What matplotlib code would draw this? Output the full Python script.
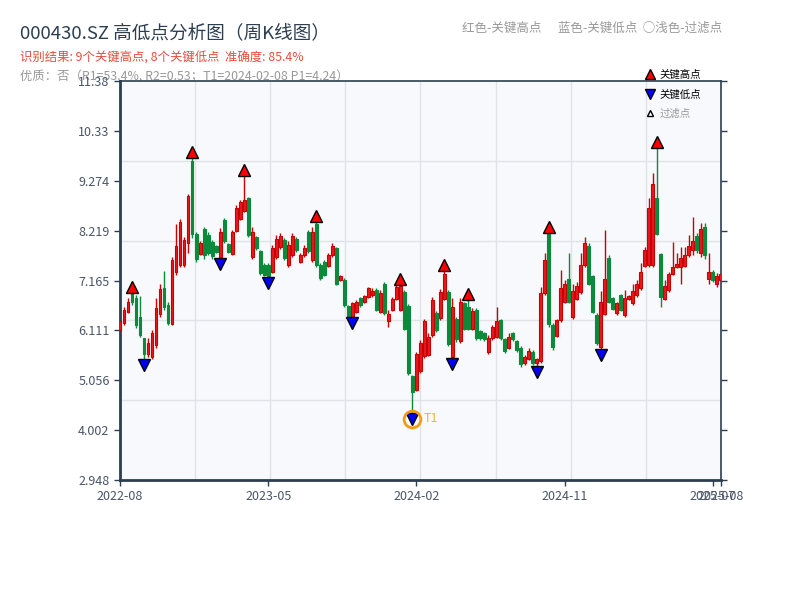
import matplotlib
matplotlib.use("Agg")
import matplotlib.pyplot as plt
import numpy as np
from matplotlib.lines import Line2D

plt.rcParams['font.family'] = ['Noto Sans CJK SC', 'DejaVu Sans']

# 周K线数据 (每周 开/高/低/收)
opens = [6.12, 6.26, 6.50, 6.90, 6.80, 6.40, 5.94, 5.62, 5.55, 5.80,
         6.45, 7.00, 6.65, 6.25, 7.35, 7.50, 7.50, 7.95, 9.70, 8.15,
         7.72, 8.25, 8.12, 7.98, 7.90, 7.64, 8.45, 7.93, 7.72, 8.22,
         8.46, 8.63, 8.90, 7.66, 8.08, 7.78, 7.50, 7.50, 7.35, 7.66,
         7.87, 8.02, 7.50, 7.70, 8.05, 7.56, 7.70, 8.18, 7.60, 8.35,
         7.50, 7.56, 7.48, 7.70, 7.85, 7.17, 7.18, 6.62, 6.40, 6.50,
         6.80, 6.70, 6.81, 6.85, 6.97, 6.50, 7.10, 6.30, 6.54, 6.78,
         6.55, 6.92, 6.62, 5.15, 4.85, 5.25, 5.56, 5.60, 6.02, 6.48,
         6.38, 6.78, 6.92, 5.55, 6.36, 5.88, 6.68, 6.60, 6.15, 6.55,
         6.10, 6.05, 5.66, 5.94, 5.98, 6.32, 5.92, 5.74, 6.05, 5.89,
         5.74, 5.42, 5.50, 5.66, 5.43, 5.46, 6.90, 8.15, 6.22, 6.00,
         6.32, 6.70, 7.20, 6.40, 6.78, 6.92, 7.50, 7.90, 7.25, 6.44,
         5.75, 6.46, 7.65, 6.80, 6.47, 6.86, 6.44, 6.77, 6.68, 6.85,
         7.00, 7.48, 7.50, 7.50, 8.90, 7.72, 6.78, 6.96, 7.30, 7.45,
         7.45, 7.48, 7.70, 7.80, 8.10, 7.75, 8.30, 7.20, 7.35, 7.10,
         7.18]
highs = [6.36, 6.61, 6.79, 7.03, 6.86, 6.84, 5.95, 5.95, 6.12, 6.79,
         7.10, 7.36, 6.72, 7.67, 8.35, 8.46, 8.09, 8.99, 9.89, 8.20,
         7.99, 8.30, 8.20, 8.02, 7.92, 8.27, 8.48, 7.95, 8.23, 8.76,
         8.87, 9.50, 8.94, 8.30, 8.10, 7.81, 7.53, 7.53, 7.91, 8.13,
         8.16, 8.06, 7.99, 8.16, 8.09, 7.74, 7.91, 8.23, 8.30, 8.53,
         7.53, 7.60, 7.74, 7.95, 7.88, 7.28, 7.21, 6.65, 6.72, 6.75,
         6.82, 6.86, 7.03, 7.00, 7.00, 6.96, 7.14, 6.54, 6.82, 7.07,
         7.19, 6.96, 6.67, 5.17, 5.66, 5.91, 6.36, 6.06, 6.81, 6.51,
         6.98, 7.49, 6.96, 6.79, 6.40, 6.79, 6.72, 6.89, 6.58, 6.58,
         6.12, 6.08, 6.01, 6.22, 6.61, 6.36, 5.94, 6.05, 6.08, 5.91,
         5.77, 5.59, 5.73, 5.70, 5.52, 7.03, 7.74, 8.30, 6.26, 6.36,
         7.39, 7.17, 7.74, 7.10, 7.14, 7.74, 8.09, 7.95, 7.28, 6.47,
         6.95, 8.23, 7.70, 6.82, 6.72, 6.89, 6.96, 6.86, 7.10, 7.17,
         7.53, 7.88, 8.90, 9.43, 10.10, 7.74, 7.17, 7.35, 7.98, 7.74,
         7.88, 7.88, 8.13, 8.51, 8.16, 8.37, 8.37, 7.74, 7.39, 7.32,
         7.35]
lows = [6.08, 6.22, 6.47, 6.65, 6.17, 5.97, 5.38, 5.55, 5.50, 5.73,
        6.40, 6.54, 6.22, 6.22, 7.28, 7.46, 7.46, 7.75, 8.06, 7.56,
        7.70, 7.63, 7.70, 7.63, 7.74, 7.51, 7.95, 7.74, 7.70, 8.20,
        8.44, 8.62, 8.09, 7.63, 7.82, 7.28, 7.25, 7.11, 7.32, 7.63,
        7.84, 7.60, 7.46, 7.67, 7.77, 7.53, 7.67, 7.74, 7.56, 7.46,
        7.18, 7.25, 7.46, 7.67, 7.07, 7.15, 6.61, 6.37, 6.26, 6.47,
        6.61, 6.68, 6.79, 6.82, 6.51, 6.47, 6.43, 6.19, 6.51, 6.75,
        6.51, 6.12, 5.17, 4.24, 4.82, 5.20, 5.52, 5.56, 5.98, 6.08,
        6.34, 6.75, 5.78, 5.39, 5.87, 5.84, 6.12, 6.12, 6.12, 5.91,
        5.91, 5.89, 5.62, 5.91, 5.94, 5.91, 5.64, 5.71, 5.89, 5.66,
        5.34, 5.38, 5.48, 5.38, 5.23, 5.43, 6.86, 6.19, 5.70, 5.98,
        6.29, 6.68, 6.68, 6.36, 6.75, 6.89, 7.46, 7.07, 6.47, 5.80,
        5.58, 6.44, 6.68, 6.54, 6.44, 6.51, 6.40, 6.75, 6.65, 6.82,
        6.96, 7.46, 7.46, 7.46, 8.13, 6.61, 6.75, 6.93, 7.28, 7.42,
        7.10, 7.46, 7.67, 7.70, 7.74, 7.67, 7.63, 7.10, 7.14, 7.03,
        7.14]
closes = [6.30, 6.55, 6.72, 6.70, 6.22, 6.02, 5.62, 5.85, 6.05, 6.58,
          6.98, 6.60, 6.26, 7.60, 7.90, 8.40, 8.02, 8.95, 8.15, 7.62,
          7.95, 7.70, 7.75, 7.68, 7.76, 8.20, 8.00, 7.77, 8.18, 8.70,
          8.82, 8.86, 8.12, 8.20, 7.85, 7.32, 7.28, 7.25, 7.85, 8.05,
          8.10, 7.64, 7.92, 8.10, 7.80, 7.70, 7.86, 7.78, 8.20, 7.50,
          7.21, 7.28, 7.70, 7.90, 7.10, 7.25, 6.65, 6.40, 6.68, 6.70,
          6.64, 6.83, 7.00, 6.95, 6.54, 6.90, 6.47, 6.45, 6.78, 7.02,
          7.05, 6.15, 5.20, 4.80, 5.62, 5.85, 6.30, 5.98, 6.75, 6.12,
          6.92, 7.30, 5.82, 6.60, 5.92, 6.70, 6.15, 6.15, 6.52, 5.95,
          5.94, 5.92, 5.96, 6.18, 6.30, 5.95, 5.68, 5.98, 5.92, 5.70,
          5.40, 5.55, 5.68, 5.42, 5.50, 6.90, 7.60, 6.25, 5.75, 6.32,
          7.00, 7.10, 6.72, 6.95, 7.05, 7.50, 7.95, 7.10, 6.50, 5.84,
          6.70, 7.20, 6.72, 6.57, 6.68, 6.54, 6.80, 6.84, 6.95, 7.10,
          7.35, 7.80, 8.70, 9.20, 8.15, 6.82, 7.05, 7.30, 7.45, 7.52,
          7.65, 7.70, 7.90, 8.00, 7.80, 8.25, 7.70, 7.35, 7.18, 7.25,
          7.30]

# 关键高点 / 关键低点 (K线序号)
high_idx = [3, 18, 31, 49, 70, 81, 87, 107, 134]
low_idx = [6, 25, 37, 58, 73, 83, 104, 120]
t1_idx = 73

tick_idx = [0, 37, 74, 111, 148, 150]
tick_lbl = ['2022-08', '2023-05', '2024-02', '2024-11', '2025-07', '2025-08']
y_lim = (2.948, 11.382)
y_lbl = ['2.948', '4.002', '5.056', '6.111', '7.165', '8.219', '9.274', '10.33', '11.38']

UP = '#e8191e'
UP_EDGE = '#c80000'
DOWN = '#0a8a3a'
DARK = '#2c3e50'

fig = plt.figure(figsize=(8, 6), dpi=100)
ax = fig.add_axes([0.15, 0.2, 0.751, 0.665])
ax.set_zorder(1)
ax.set_facecolor('#f7f9fc')

x = np.arange(len(opens))
o = np.array(opens)
h = np.array(highs)
l = np.array(lows)
c = np.array(closes)
up = c >= o

# 网格
for f in [0.2, 0.4, 0.6, 0.8]:
    ax.plot([0, 1], [f, f], transform=ax.transAxes, color='#dfe3e8', lw=1, zorder=0)
for f in np.arange(1, 8) / 8:
    ax.plot([f, f], [0, 1], transform=ax.transAxes, color='#dfe3e8', lw=1, zorder=0)

# K线
ax.vlines(x[up], l[up], h[up], color=UP_EDGE, lw=1, zorder=2)
ax.vlines(x[~up], l[~up], h[~up], color=DOWN, lw=1, zorder=2)
ax.bar(x[up], c[up] - o[up], bottom=o[up], width=0.7, color=UP,
       edgecolor=UP_EDGE, linewidth=0.8, zorder=3)
ax.bar(x[~up], o[~up] - c[~up], bottom=c[~up], width=0.7, color=DOWN,
       edgecolor=DOWN, linewidth=0.8, zorder=3)

# 关键点
ax.plot(high_idx, h[high_idx], ls='none', marker='^', ms=9, mfc='#ff0000',
        mec='black', mew=1, zorder=5)
ax.plot(low_idx, l[low_idx], ls='none', marker='v', ms=9, mfc='#0000ff',
        mec='black', mew=1, zorder=5)
ax.plot([t1_idx], [l[t1_idx]], ls='none', marker='o', ms=12, mfc='none',
        mec='#f39c12', mew=2, zorder=6)
ax.annotate('T1', (t1_idx, l[t1_idx]), xytext=(8, 0), textcoords='offset points',
            color='#f5b041', fontsize=9, va='center', zorder=6)

ax.set_xlim(0, len(opens) - 1)
ax.set_ylim(*y_lim)
ax.set_xticks(tick_idx)
ax.set_xticklabels(tick_lbl)
ax.set_yticks(np.linspace(y_lim[0], y_lim[1], len(y_lbl)))
ax.set_yticklabels(y_lbl)
ax.tick_params(axis='both', colors=DARK, labelcolor='#4a5568', labelsize=9,
               length=4, width=1, direction='out')
ax.tick_params(axis='y', right=True, labelright=False)

for side in ['left', 'bottom']:
    ax.spines[side].set_linewidth(2)
    ax.spines[side].set_color(DARK)
for side in ['top', 'right']:
    ax.spines[side].set_linewidth(1.2)
    ax.spines[side].set_color(DARK)

# 标题与说明
fig.text(0.025, 0.945, '000430.SZ 高低点分析图（周K线图）', fontsize=13.4,
         color=DARK, va='center')
fig.text(0.025, 0.903, '识别结果: 9个关键高点, 8个关键低点  准确度: 85.4%',
         fontsize=8.9, color='#e74c3c', va='center')
fig.text(0.025, 0.873, '优质：否（R1=53.4%, R2=0.53；T1=2024-02-08 P1=4.24）',
         fontsize=8.9, color='#999999', va='center', zorder=0.5)
fig.text(0.578, 0.953, '红色-关键高点      蓝色-关键低点  ○浅色-过滤点',
         fontsize=9, color='#999999', va='center')

handles = [
    Line2D([], [], ls='none', marker='^', ms=7, mfc='#ff0000', mec='black'),
    Line2D([], [], ls='none', marker='v', ms=7, mfc='#0000ff', mec='black'),
    Line2D([], [], ls='none', marker='^', ms=5, mfc='white', mec='black'),
]
leg = fig.legend(handles, ['关键高点', '关键低点', '过滤点'], loc='upper left',
                 bbox_to_anchor=(0.795, 0.9), frameon=False, fontsize=7.5,
                 handlelength=0.8, handletextpad=0.6, labelspacing=0.9)
leg.get_texts()[2].set_color('#999999')
leg.set_zorder(10)

fig.savefig('out.png', dpi=100)
